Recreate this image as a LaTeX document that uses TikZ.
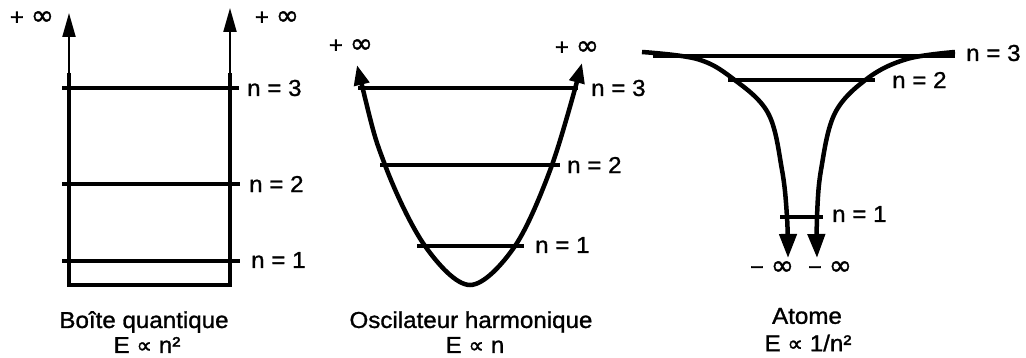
\documentclass[tikz,border=0pt]{standalone}
\usepackage{fontspec}
\setmainfont[FakeStretch=1.05,FakeBold=1.2]{Liberation Sans}
\newfontfamily\symfont[FakeBold=1.2]{DejaVu Sans}
\usetikzlibrary{arrows.meta}
\tikzset{
  lbl/.style={inner sep=0pt, font=\fontsize{23}{27}\selectfont},
  captext/.style={inner sep=0pt, font=\fontsize{23}{27}\selectfont, align=center},
  level/.style={line width=3.5pt},
  wall/.style={line width=4pt},
  thinarrow/.style={line width=2pt, -{Triangle[length=24pt,width=13pt]}},
  curve/.style={line width=4.5pt},
}
\newcommand{\prop}{{\symfont\fontsize{22}{22}\selectfont ∝}}
\newcommand{\infy}{{\symfont\fontsize{28}{28}\selectfont ∞}}
\begin{document}
\begin{tikzpicture}[x=1pt,y=-1pt]
\useasboundingbox (0,0) rectangle (1026,358);
% ---------- Panel 1: box ----------
\coordinate (b1t) at (69,73);
\coordinate (b1b) at (69,285);
\coordinate (b2t) at (230,73);
\coordinate (b2b) at (230,285);
\coordinate (a1) at (69,13);
\coordinate (a2) at (230,8);
\draw[wall, line join=miter] (b1t) -- (b1b) -- (b2b) -- (b2t);
\draw[thinarrow] (b1t) -- (a1);
\draw[thinarrow] (b2t) -- (a2);
\coordinate (l3a) at (62,88); \coordinate (l3b) at (239,88);
\coordinate (l2a) at (62,184); \coordinate (l2b) at (240,184);
\coordinate (l1a) at (62,261); \coordinate (l1b) at (240,261);
\draw[level] (l3a) -- (l3b);
\draw[level] (l2a) -- (l2b);
\draw[level] (l1a) -- (l1b);
\node[lbl, anchor=west] (p1n3) at (247,88) {n = 3};
\node[lbl, anchor=west] (p1n2) at (249,184) {n = 2};
\node[lbl, anchor=west] (p1n1) at (251,260) {n = 1};
\node[lbl] (p1inf1) at (32,18) {+ \infy};
\node[lbl] (p1inf2) at (277,18) {+ \infy};
\node[captext] (c1) at (144,322) {Boîte quantique};
\node[captext] (c1b) at (147,345) {E \prop{} n²};
% ---------- Panel 2: harmonic oscillator ----------
\draw[curve, {Triangle[length=20pt,width=15pt]}-{Triangle[length=20pt,width=15pt]}]
  plot[smooth, tension=0.55] coordinates {(357,65) (385,165) (425,246) (470,285) (515,246) (552,165) (582,63)};
\coordinate (h3a) at (358,88); \coordinate (h3b) at (578,88);
\coordinate (h2a) at (380,165); \coordinate (h2b) at (560,165);
\coordinate (h1a) at (417,246); \coordinate (h1b) at (524,246);
\draw[level] (h3a) -- (h3b);
\draw[level] (h2a) -- (h2b);
\draw[level] (h1a) -- (h1b);
\node[lbl, anchor=west] (p2n3) at (591,88) {n = 3};
\node[lbl, anchor=west] (p2n2) at (567,165) {n = 2};
\node[lbl, anchor=west] (p2n1) at (535,245) {n = 1};
\node[lbl] (p2inf1) at (351,46) {+ \infy};
\node[lbl] (p2inf2) at (577,48) {+ \infy};
\node[captext] (c2) at (471,322) {Oscilateur harmonique};
\node[captext] (c2b) at (475,345) {E \prop{} n};
% ---------- Panel 3: atom ----------
\draw[curve, -{Triangle[length=24pt,width=17pt]}]
  plot[smooth, tension=0.6] coordinates {(642,52) (697,59) (732,78) (768,113) (782,170) (787,217) (788,258)};
\draw[curve, -{Triangle[length=24pt,width=17pt]}]
  plot[smooth, tension=0.6] coordinates {(955,52) (907,59) (868,78) (835,113) (821,170) (817,217) (817,258)};
\coordinate (t3a) at (653,56); \coordinate (t3b) at (955,56);
\coordinate (t2a) at (728,80); \coordinate (t2b) at (875,80);
\coordinate (t1a) at (780,217); \coordinate (t1b) at (823,217);
\draw[level] (t3a) -- (t3b);
\draw[level] (t2a) -- (t2b);
\draw[level] (t1a) -- (t1b);
\node[lbl, anchor=west] (p3n3) at (966,53) {n = 3};
\node[lbl, anchor=west] (p3n2) at (892,80) {n = 2};
\node[lbl, anchor=west] (p3n1) at (832,214) {n = 1};
\node[lbl] (p3inf1) at (772,268) {− \infy};
\node[lbl] (p3inf2) at (830,268) {− \infy};
\node[captext] (c3) at (807,316) {Atome};
\node[captext] (c3b) at (808,343) {E \prop{} 1/n²};
\end{tikzpicture}
\end{document}
